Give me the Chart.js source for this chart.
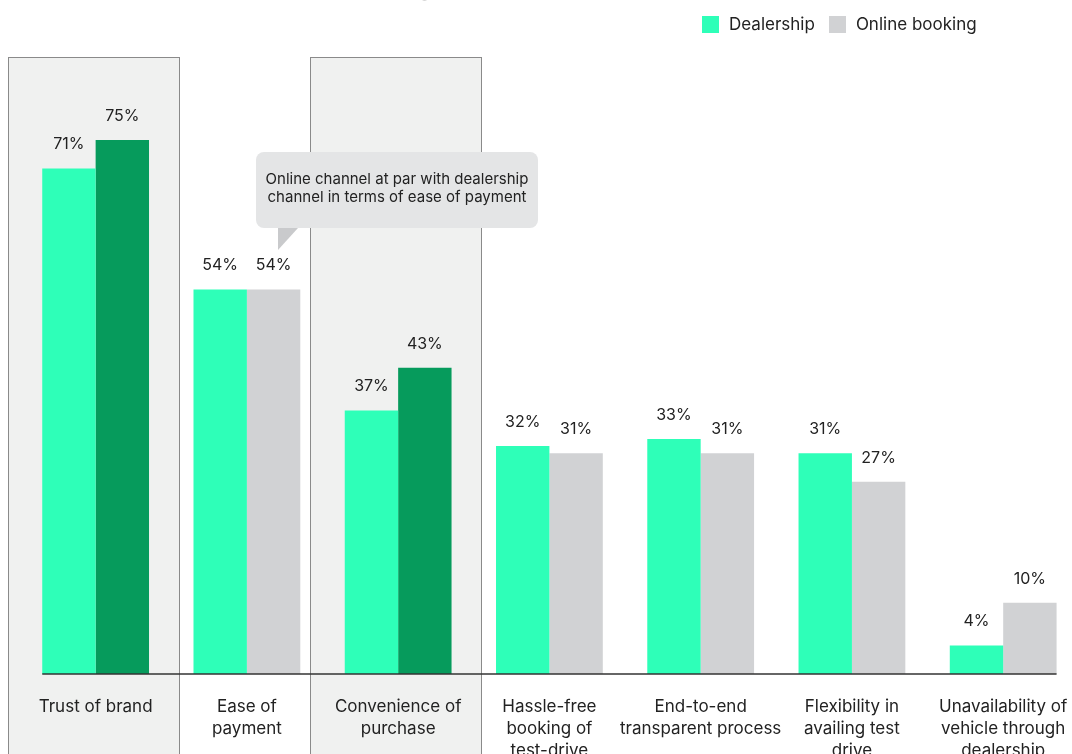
<!DOCTYPE html>
<html>
<head>
<meta charset="utf-8">
<script src="https://cdn.jsdelivr.net/npm/chart.js@4.4.1/dist/chart.umd.min.js"></script>
<style>
  html, body { margin: 0; padding: 0; background: #fff; overflow: hidden; width: 1072px; height: 754px; }
  #wrap { position: relative; width: 1090px; height: 784px; }
  #title { position: absolute; left: 14px; top: -23px; font: 20px Inter, sans-serif; color: #b0b0b0; white-space: nowrap; }
  #legend { position: absolute; left: 702px; top: 14px; font: 17px Inter, sans-serif; color: #222; display: flex; align-items: center; }
  #legend span.box { display: inline-block; width: 17px; height: 17px; margin-right: 10px; }
  #legend span.lbl { margin-right: 14px; }
</style>
</head>
<body>
<div id="wrap">
  <canvas id="chart"></canvas>
  <div id="title">Preferred mode of purchase, online booking</div>
  <div id="legend"></div>
</div>
<script>
// Chart data
const categories = [
    'Trust of brand',
    ['Ease of', 'payment'],
    ['Convenience of', 'purchase'],
    ['Hassle-free', 'booking of', 'test-drive'],
    ['End-to-end', 'transparent process'],
    ['Flexibility in', 'availing test', 'drive'],
    ['Unavailability of', 'vehicle through', 'dealership']
];
const dealershipValues = [71, 54, 37, 32, 33, 31, 4];
const onlineValues = [75, 54, 43, 31, 31, 27, 10];
const highlighted = [0, 2];   // categories with shaded panel
const calloutLines = ['Online channel at par with dealership', 'channel in terms of ease of payment'];

const MINT = '#2effb8';
const DARK_GREEN = '#069b5c';
const GREY = '#d1d2d4';

// Legend (html)
const legendEl = document.getElementById('legend');
[['Dealership', MINT], ['Online booking', GREY]].forEach(([name, color]) => {
    legendEl.innerHTML += `<span class="box" style="background:${color}"></span><span class="lbl">${name}</span>`;
});

/**
 * Shaded panels behind highlighted categories
 */
const panelPlugin = {
    id: 'panels',
    beforeDraw(chart) {
        const ctx = chart.ctx;
        const x = chart.scales.x;
        ctx.save();
        highlighted.forEach(i => {
            const left = Math.round(x.getPixelForValue(i) - 88) + 0.5;
            ctx.fillStyle = '#f0f1f0';
            ctx.fillRect(left, 57.5, 171, chart.height);
            ctx.strokeStyle = '#8a8a8a';
            ctx.lineWidth = 1;
            ctx.strokeRect(left, 57.5, 171, chart.height);
        });
        ctx.restore();
    }
};

/**
 * Value labels, baseline and callout
 */
const overlayPlugin = {
    id: 'overlay',
    afterDatasetsDraw(chart) {
        const ctx = chart.ctx;
        ctx.save();
        // value labels
        ctx.font = '16px Inter, sans-serif';
        ctx.fillStyle = '#222';
        ctx.textAlign = 'center';
        ctx.textBaseline = 'middle';
        chart.data.datasets.forEach((ds, di) => {
            chart.getDatasetMeta(di).data.forEach((bar, i) => {
                ctx.fillText(ds.data[i] + '%', bar.x, bar.y - 24);
            });
        });

        // baseline under bars
        const m0 = chart.getDatasetMeta(0).data;
        const m1 = chart.getDatasetMeta(1).data;
        const first = m0[0];
        const last = m1[m1.length - 1];
        const bottom = chart.chartArea.bottom;
        ctx.strokeStyle = '#333';
        ctx.lineWidth = 1.5;
        ctx.beginPath();
        ctx.moveTo(first.x - first.width / 2, bottom);
        ctx.lineTo(last.x + last.width / 2, bottom);
        ctx.stroke();

        // callout above "Ease of payment"
        const bx = 256, by = 152, bw = 282, bh = 76;
        ctx.fillStyle = '#e4e5e6';
        ctx.beginPath();
        ctx.roundRect(bx, by, bw, bh, 8);
        ctx.fill();
        ctx.fillStyle = '#c9cacc';
        ctx.beginPath();
        ctx.moveTo(278, by + bh);
        ctx.lineTo(298, by + bh);
        ctx.lineTo(278, by + bh + 22);
        ctx.closePath();
        ctx.fill();
        ctx.fillStyle = '#222';
        ctx.font = '15px Inter, sans-serif';
        calloutLines.forEach((t, k) => ctx.fillText(t, bx + bw / 2, 179 + k * 18));
        ctx.restore();
    }
};

const ctx = document.getElementById('chart').getContext('2d');
new Chart(ctx, {
    type: 'bar',
    data: {
        labels: categories,
        datasets: [
            {
                label: 'Dealership',
                data: dealershipValues,
                backgroundColor: MINT
            },
            {
                label: 'Online booking',
                data: onlineValues,
                backgroundColor: onlineValues.map((v, i) => highlighted.includes(i) ? DARK_GREEN : GREY)
            }
        ]
    },
    options: {
        responsive: true,
        maintainAspectRatio: false,
        animation: false,
        categoryPercentage: 0.706,
        barPercentage: 1,
        layout: { padding: { top: 58, left: 20, right: 9.5, bottom: 0 } },
        plugins: {
            legend: { display: false },
            tooltip: { enabled: false }
        },
        scales: {
            x: {
                grid: { display: false, drawTicks: false },
                border: { display: false },
                ticks: {
                    color: '#222',
                    padding: 22,
                    maxRotation: 0,
                    autoSkip: false,
                    font: { family: 'Inter, sans-serif', size: 17, lineHeight: '22px' }
                }
            },
            y: {
                display: false,
                min: 0,
                max: 86.5
            }
        }
    },
    plugins: [panelPlugin, overlayPlugin]
});
</script>
</body>
</html>
